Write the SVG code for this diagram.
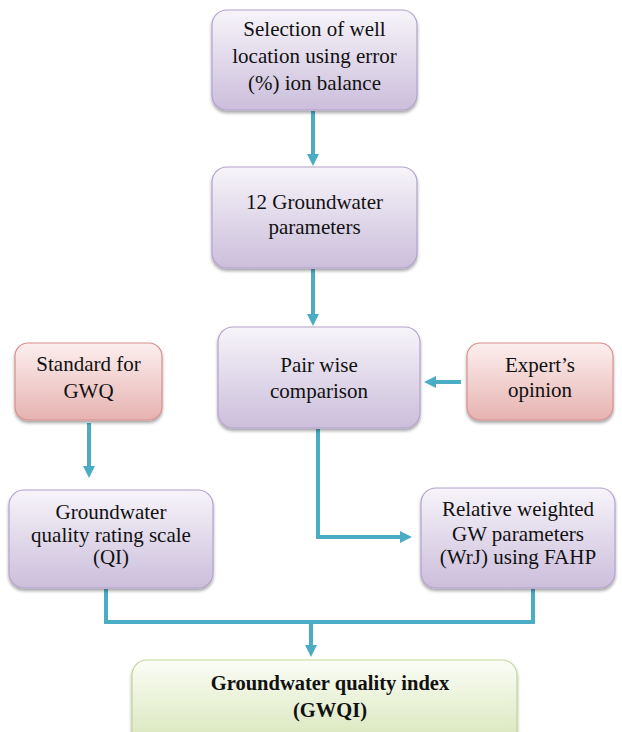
<svg xmlns="http://www.w3.org/2000/svg" width="622" height="732" viewBox="0 0 622 732" font-family="Liberation Serif, Times New Roman, serif">
<defs>
<linearGradient id="gPurple" x1="0" y1="0" x2="0" y2="1">
<stop offset="0" stop-color="#f7f4fa"/>
<stop offset="1" stop-color="#cbbedb"/>
</linearGradient>
<linearGradient id="gRed" x1="0" y1="0" x2="0" y2="1">
<stop offset="0" stop-color="#fcefee"/>
<stop offset="1" stop-color="#e6b3b1"/>
</linearGradient>
<linearGradient id="gGreen" x1="0" y1="0" x2="0" y2="1">
<stop offset="0" stop-color="#fbfdf6"/>
<stop offset="1" stop-color="#d6e4b6"/>
</linearGradient>
<filter id="shadow" x="-10%" y="-10%" width="120%" height="130%">
<feDropShadow dx="0" dy="2.5" stdDeviation="1.5" flood-color="#000" flood-opacity="0.35"/>
</filter>
<marker id="arrow" viewBox="0 0 10 10" refX="0" refY="5" markerWidth="12" markerHeight="12" markerUnits="userSpaceOnUse" orient="auto">
<path d="M0,0 L10,5 L0,10 z" fill="#4bacc6"/>
</marker>
</defs>
<style>
.box{stroke-width:1.2;filter:url(#shadow)}
.p{fill:url(#gPurple);stroke:#b3a2cb}
.r{fill:url(#gRed);stroke:#d7908e}
.g{fill:url(#gGreen);stroke:#c2d59a}
text{font-size:21px;fill:#111;text-anchor:middle}
.b{font-weight:bold;font-size:20.5px}
.conn{fill:none;stroke:#4bacc6;stroke-width:4}
</style>
<g id="connectors">
<line class="conn" x1="313" y1="111" x2="313" y2="154" marker-end="url(#arrow)"/>
<line class="conn" x1="313" y1="269" x2="313" y2="314" marker-end="url(#arrow)"/>
<line class="conn" x1="461" y1="382" x2="436" y2="382" marker-end="url(#arrow)"/>
<line class="conn" x1="89" y1="423" x2="89" y2="466" marker-end="url(#arrow)"/>
<polyline class="conn" points="318,429 318,537 400,537" marker-end="url(#arrow)"/>
<polyline class="conn" points="106,589 106,622 533,622 533,589"/>
<line class="conn" x1="311" y1="622" x2="311" y2="645" marker-end="url(#arrow)"/>
</g>
<g id="n1">
<rect class="box p" x="212" y="10" width="205" height="100" rx="15"/>
<text x="314.5" y="36">Selection of well</text>
<text x="314.5" y="63">location using error</text>
<text x="314.5" y="90">(%) ion balance</text>
</g>
<g id="n2">
<rect class="box p" x="212" y="167" width="205" height="101" rx="15"/>
<text x="314.5" y="209">12 Groundwater</text>
<text x="314.5" y="234">parameters</text>
</g>
<g id="n3">
<rect class="box p" x="218" y="327" width="202" height="101" rx="15"/>
<text x="319" y="372">Pair wise</text>
<text x="319" y="398">comparison</text>
</g>
<g id="n4">
<rect class="box r" x="15" y="343" width="147" height="77" rx="13"/>
<text x="88.5" y="371">Standard for</text>
<text x="88.5" y="398">GWQ</text>
</g>
<g id="n5">
<rect class="box r" x="467" y="343" width="146" height="77" rx="13"/>
<text x="540" y="372">Expert’s</text>
<text x="540" y="397">opinion</text>
</g>
<g id="n6">
<rect class="box p" x="9" y="490" width="204" height="98" rx="15"/>
<text x="111" y="519">Groundwater</text>
<text x="111" y="542">quality rating scale</text>
<text x="111" y="564">(QI)</text>
</g>
<g id="n7">
<rect class="box p" x="421" y="488" width="194" height="100" rx="15"/>
<text x="518" y="516">Relative weighted</text>
<text x="518" y="541">GW parameters</text>
<text x="518" y="564">(WrJ) using FAHP</text>
</g>
<g id="n8">
<rect class="box g" x="132" y="660" width="385" height="90" rx="15"/>
<text class="b" x="330" y="690">Groundwater quality index</text>
<text class="b" x="330" y="717">(GWQI)</text>
</g>
</svg>
